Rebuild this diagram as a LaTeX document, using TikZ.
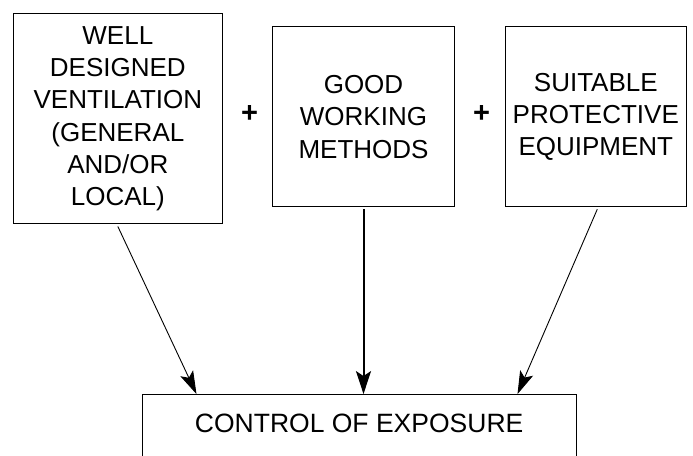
\documentclass[tikz,border=0pt]{standalone}
\usepackage{fontspec}
\setmainfont{Liberation Sans}
\usetikzlibrary{arrows.meta}
\tikzset{
  boxnode/.style={draw, line width=1pt, inner sep=0pt, align=center,
    font={\fontsize{26}{32.3}\selectfont}},
  plusnode/.style={inner sep=0pt, font={\fontsize{29}{32}\selectfont\bfseries}},
  arr/.style={line width=0.9pt, -{Stealth[length=23pt, width=14pt, inset=5pt]}},
  thickarr/.style={line width=2pt, -{Stealth[length=23pt, width=15pt, inset=5pt]}}
}
\begin{document}
\begin{tikzpicture}[x=1pt,y=1pt]
\useasboundingbox (0,0) rectangle (693,455);
\node[boxnode, minimum width=209.7pt, minimum height=209.3pt] (l) at (117.85,336.35)
  {WELL\\DESIGNED\\VENTILATION\\(GENERAL\\AND/OR\\LOCAL)};
\node[boxnode, minimum width=181.6pt, minimum height=180.3pt] (m) at (363.5,338.15)
  {GOOD\\WORKING\\METHODS};
\node[boxnode, minimum width=181pt, minimum height=180.3pt] (r) at (595.8,338.15)
  {SUITABLE\\PROTECTIVE\\EQUIPMENT};
\node[plusnode] (p1) at (249.5,341) {+};
\node[plusnode] (p2) at (481.5,341) {+};
\node[inner sep=0pt, minimum width=433.7pt, minimum height=57.4pt,
  font={\fontsize{26.5}{30}\selectfont}] (b) at (359.15,32) {CONTROL OF EXPOSURE};
\draw[line width=1pt] ([yshift=-40pt]b.south west) -- (b.north west) -- (b.north east) -- ([yshift=-40pt]b.south east);
\draw[arr] ([yshift=-2.7pt]l.south) -- ([xshift=54.4pt]b.north west);
\draw[thickarr] ([yshift=-2pt]m.south) -- (m.south |- b.north);
\draw[arr] ([xshift=1.5pt,yshift=-1.7pt]r.south) -- ([xshift=-58.7pt]b.north east);
\end{tikzpicture}
\end{document}
